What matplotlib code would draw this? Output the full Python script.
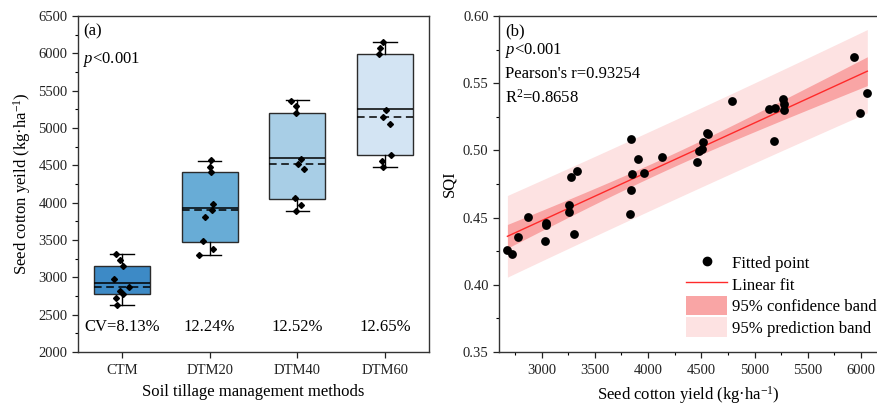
import numpy as np
import matplotlib
matplotlib.use("Agg")
import matplotlib.pyplot as plt
from matplotlib.patches import Patch
from matplotlib.lines import Line2D
from matplotlib.ticker import MultipleLocator

plt.rcParams['font.family'] = ['Liberation Serif', 'DejaVu Serif']
plt.rcParams['mathtext.fontset'] = 'custom'
plt.rcParams['mathtext.rm'] = 'Liberation Serif'
plt.rcParams['mathtext.it'] = 'Liberation Serif:italic'

# ---------------- data: panel (a) ----------------
categories = ["CTM", "DTM20", "DTM40", "DTM60"]
cv_labels = ["CV=8.13%", "12.24%", "12.52%", "12.65%"]
ctm_points = [3317, 3233, 3152, 2978, 2876, 2818, 2773, 2724, 2634]
dtm20_points = [4568, 4482, 4407, 3987, 3898, 3813, 3483, 3384, 3300]
dtm40_points = [5366, 5291, 5205, 4589, 4518, 4451, 4059, 3974, 3889]
dtm60_points = [6152, 6076, 5992, 5237, 5148, 5054, 4639, 4554, 4482]
ctm_jitter = [-0.07, -0.02, 0.01, -0.09, 0.08, -0.02, 0.01, -0.07, -0.05]
dtm20_jitter = [0.01, 0.0, 0.01, 0.04, 0.03, -0.05, -0.08, 0.04, -0.12]
dtm40_jitter = [-0.07, -0.02, -0.02, 0.04, 0.01, 0.08, -0.03, 0.04, -0.02]
dtm60_jitter = [-0.02, -0.06, -0.07, 0.01, -0.02, 0.06, 0.07, -0.04, -0.02]
box_q1 = [2773, 3478, 4050, 4639]
box_med = [2930, 3925, 4594, 5255]
box_q3 = [3152, 4415, 5205, 5995]
box_whislo = [2634, 3300, 3889, 4482]
box_whishi = [3317, 4554, 5371, 6152]
box_mean = [2876, 3907, 4518, 5143]
box_colors = ["#3d8ac6", "#68acd6", "#a8cee6", "#d3e4f3"]

# ---------------- data: panel (b) ----------------
yield_x = [2679, 2726, 2782, 2876, 3035, 3037, 3044, 3255, 3262, 3280, 3306, 3336,
           3829, 3838, 3841, 3853, 3904, 3965, 4131, 4464, 4480, 4502, 4514, 4555,
           4567, 4788, 5140, 5187, 5190, 5271, 5277, 5280, 5932, 5994, 6059]
sqi_y = [0.4261, 0.4227, 0.4353, 0.4507, 0.4324, 0.4462, 0.4442, 0.4592, 0.4542,
         0.4800, 0.4378, 0.4844, 0.4529, 0.4705, 0.5083, 0.4827, 0.4934, 0.4832,
         0.4949, 0.4914, 0.4998, 0.5008, 0.5060, 0.5132, 0.5122, 0.5370, 0.5306,
         0.5068, 0.5316, 0.5385, 0.5343, 0.5300, 0.5697, 0.5276, 0.5429]

fig = plt.figure(figsize=(8.78, 4.12), dpi=100)
ax1 = fig.add_axes([78/878, 1-352/412, 351/878, 336/412])
ax2 = fig.add_axes([499/878, 1-352/412, 378/878, 336/412])

FS = 12
edge = "#2b2b2b"

# ---- panel (a) ----
stats = []
for i in range(4):
    stats.append(dict(q1=box_q1[i], med=box_med[i], q3=box_q3[i],
                      whislo=box_whislo[i], whishi=box_whishi[i],
                      mean=box_mean[i], fliers=[], label=categories[i]))
bp = ax1.bxp(stats, positions=[1, 2, 3, 4], widths=0.64, patch_artist=True,
             showmeans=True, meanline=True, showfliers=False,
             boxprops=dict(linewidth=1.0, edgecolor=edge),
             medianprops=dict(color="black", linewidth=1.1),
             meanprops=dict(color="black", linestyle=(0, (5, 3)), linewidth=1.1),
             whiskerprops=dict(color="black", linewidth=1.0),
             capprops=dict(color="black", linewidth=1.0), capwidths=0.27)
for patch, c in zip(bp['boxes'], box_colors):
    patch.set_facecolor(c)

groups = [ctm_points, dtm20_points, dtm40_points, dtm60_points]
jitters = [ctm_jitter, dtm20_jitter, dtm40_jitter, dtm60_jitter]
for i, (pts, jit) in enumerate(zip(groups, jitters)):
    xs = np.array(jit) + (i + 1)
    ax1.plot(xs, pts, linestyle="none", marker="D", markersize=3.0,
             color="black", zorder=5)
    ax1.text(i + 1, 2330, cv_labels[i], ha="center", va="center", fontsize=FS)

ax1.set_xlim(0.5, 4.5)
ax1.set_ylim(2000, 6500)
ax1.set_xticks([1, 2, 3, 4])
ax1.set_xticklabels(categories)
ax1.yaxis.set_major_locator(MultipleLocator(500))
ax1.yaxis.set_minor_locator(MultipleLocator(250))
ax1.set_xlabel("Soil tillage management methods", fontsize=FS, labelpad=5)
ax1.set_ylabel("Seed cotton yeild (kg·ha$^{-1}$)", fontsize=FS, labelpad=4)
ax1.text(0.014, 0.955, "(a)", transform=ax1.transAxes, fontsize=FS, va="center")
ax1.text(0.014, 0.872, "$\\it{p}$<0.001", transform=ax1.transAxes, fontsize=FS, va="center")

# ---- panel (b) ----
x = np.array(yield_x, dtype=float)
y = np.array(sqi_y, dtype=float)
n = len(x)
slope, intercept = np.polyfit(x, y, 1)
xf = np.linspace(x.min(), x.max(), 200)
yf = slope * xf + intercept
resid = y - (slope * x + intercept)
s = np.sqrt(np.sum(resid**2) / (n - 2))
t = 2.03
sxx = np.sum((x - x.mean())**2)
ci = t * s * np.sqrt(1/n + (xf - x.mean())**2 / sxx)
pi = t * s * np.sqrt(1 + 1/n + (xf - x.mean())**2 / sxx)

pred_c = "#fde2e2"
conf_c = "#f9a5a5"
ax2.fill_between(xf, yf - pi, yf + pi, color=pred_c, linewidth=0, zorder=1)
ax2.fill_between(xf, yf - ci, yf + ci, color=conf_c, linewidth=0, zorder=2)
ax2.plot(xf, yf, color="#ff2a2a", linewidth=1.0, zorder=3)
ax2.scatter(x, y, s=40, color="black", zorder=4, linewidths=0)

ax2.set_xlim(2600, 6150)
ax2.set_ylim(0.35, 0.60)
ax2.xaxis.set_major_locator(MultipleLocator(500))
ax2.xaxis.set_minor_locator(MultipleLocator(250))
ax2.yaxis.set_major_locator(MultipleLocator(0.05))
ax2.yaxis.set_minor_locator(MultipleLocator(0.025))
ax2.yaxis.set_major_formatter(matplotlib.ticker.FormatStrFormatter("%.2f"))
ax2.set_xlabel("Seed cotton yield (kg·ha$^{-1}$)", fontsize=FS, labelpad=5)
ax2.set_ylabel("SQI", fontsize=FS, labelpad=4)
ax2.text(0.016, 0.955, "(b)", transform=ax2.transAxes, fontsize=FS, va="center")
ax2.text(0.016, 0.898, "$\\it{p}$<0.001", transform=ax2.transAxes, fontsize=FS, va="center")
ax2.text(0.016, 0.827, "Pearson's r=0.93254", transform=ax2.transAxes, fontsize=FS, va="center")
ax2.text(0.016, 0.757, "R$^{2}$=0.8658", transform=ax2.transAxes, fontsize=FS, va="center")
ax2.spines['right'].set_visible(False)

handles = [Line2D([], [], linestyle="none", marker="o", markersize=6, color="black"),
           Line2D([], [], color="#ff2a2a", linewidth=1.0),
           Patch(facecolor=conf_c, edgecolor="none"),
           Patch(facecolor=pred_c, edgecolor="none")]
labels = ["Fitted point", "Linear fit", "95% confidence band", "95% prediction band"]
ax2.legend(handles, labels, loc="lower right", bbox_to_anchor=(1.012, 0.03),
           frameon=False, fontsize=12.1, handlelength=2.4, handleheight=1.4,
           labelspacing=0.12, handletextpad=0.3, borderaxespad=0.1,
           borderpad=0.2)

for ax in (ax1, ax2):
    ax.tick_params(axis="both", which="major", direction="out", length=4,
                   width=0.9, labelsize=10.5, colors="#222222")
    ax.tick_params(axis="both", which="minor", direction="out", length=2.2, width=0.8)
    for sp in ax.spines.values():
        sp.set_linewidth(1.0)
        sp.set_color("#333333")
    ax.tick_params(axis="x", pad=5)
ax1.tick_params(axis="x", which="minor", length=0)

fig.savefig("out.png", dpi=100)
